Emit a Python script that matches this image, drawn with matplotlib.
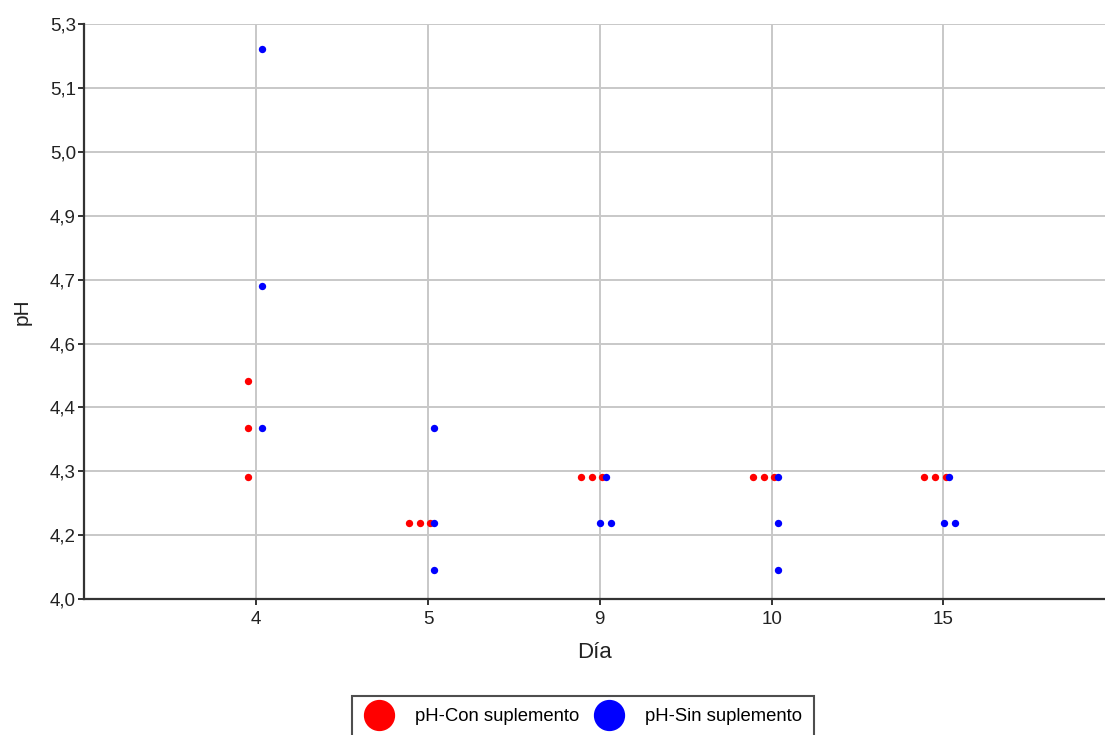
import numpy as np
import matplotlib
matplotlib.use("Agg")
import matplotlib.pyplot as plt
from matplotlib.lines import Line2D

plt.rcParams['font.family'] = ['Liberation Sans', 'DejaVu Sans']

# datos
dias = ['4', '5', '9', '10', '15']
y_ticklabels = ['4,0', '4,2', '4,3', '4,4', '4,6', '4,7', '4,9', '5,0', '5,1', '5,3']

# pH-Con suplemento (indice de dia, desplazamiento jitter, pH)
con_dia = [0, 0, 0, 1, 1, 1, 2, 2, 2, 3, 3, 3, 4, 4, 4]
con_jit = [-0.045, -0.045, -0.045, -0.111, -0.049, 0.012, -0.109, -0.047, 0.014,
           -0.108, -0.047, 0.014, -0.111, -0.048, 0.012]
con_ph = [4.493, 4.387, 4.277, 4.171, 4.171, 4.171, 4.277, 4.277, 4.277,
          4.277, 4.277, 4.277, 4.277, 4.277, 4.277]

# pH-Sin suplemento
sin_dia = [0, 0, 0, 1, 1, 1, 2, 2, 2, 3, 3, 3, 4, 4, 4]
sin_jit = [0.035, 0.035, 0.035, 0.035, 0.035, 0.035, 0.037, 0.004, 0.066,
           0.037, 0.037, 0.037, 0.033, 0.002, 0.066]
sin_ph = [5.244, 4.709, 4.387, 4.387, 4.171, 4.065, 4.277, 4.171, 4.171,
          4.277, 4.171, 4.065, 4.277, 4.171, 4.171]

fig = plt.figure(figsize=(11.05, 7.35), dpi=100)
ax = fig.add_axes([84.3 / 1105, 136 / 735, 1 - 84.3 / 1105, (599 - 24.3) / 735])

ax.scatter(np.array(con_dia) + np.array(con_jit), con_ph, s=28, color='#ff0000',
           linewidths=0, zorder=3)
ax.scatter(np.array(sin_dia) + np.array(sin_jit), sin_ph, s=28, color='#0000ff',
           linewidths=0, zorder=4)

ax.set_xlim(-1, 4.94)
ax.set_xticks(range(len(dias)))
ax.set_xticklabels(dias)
ax.set_ylim(4.0, 5.3)
ax.set_yticks(np.linspace(4.0, 5.3, len(y_ticklabels)))
ax.set_yticklabels(y_ticklabels)

ax.grid(True, color='#c8c8c8', linewidth=1.4, zorder=0)
ax.set_axisbelow(True)
for s in ['top', 'right']:
    ax.spines[s].set_visible(False)
for s in ['left', 'bottom']:
    ax.spines[s].set_color('#333333')
    ax.spines[s].set_linewidth(1.6)
ax.tick_params(axis='both', length=4, width=1.4, color='#333333',
               labelsize=13.5, labelcolor='#222222')
ax.tick_params(axis='y', pad=2)
ax.tick_params(axis='x', pad=5)

ax.set_xlabel('Día', fontsize=16, color='#222222')
ax.xaxis.set_label_coords(0.5, -0.074)
ax.set_ylabel('pH', fontsize=15, color='#222222')
ax.yaxis.set_label_coords(-0.052, 0.5)

handles = [
    Line2D([], [], linestyle='none', marker='o', markersize=21.5, color='#ff0000',
           label='pH-Con suplemento'),
    Line2D([], [], linestyle='none', marker='o', markersize=21.5, color='#0000ff',
           label='pH-Sin suplemento'),
]
leg = fig.legend(handles=handles, loc='upper left', bbox_to_anchor=(352 / 1105, 1 - 696 / 735),
                 ncol=2, fontsize=13.3, frameon=True, fancybox=False, edgecolor='#222222',
                 handletextpad=1.15, columnspacing=0.8, borderpad=0.65, borderaxespad=0,
                 handlelength=1.6)
leg.get_frame().set_linewidth(1.5)

fig.savefig('out.png', dpi=100)
